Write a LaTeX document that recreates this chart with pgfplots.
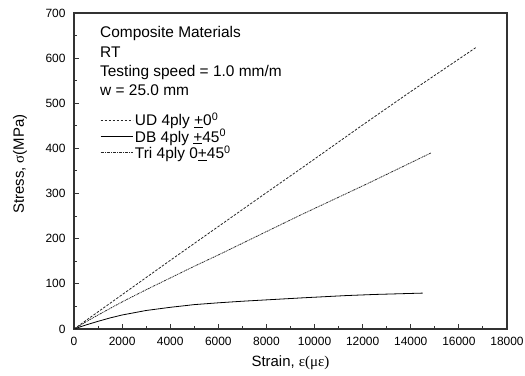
\documentclass[border=0pt]{standalone}
\usepackage{fontspec}
\setmainfont{Liberation Sans}
\newfontfamily\seriff{Liberation Serif}
\usepackage{pgfplots}
\pgfplotsset{compat=1.18}
\definecolor{ax}{HTML}{333333}
\begin{document}
\begin{tikzpicture}
\begin{axis}[name=ax, scale only axis, width=433bp, height=316bp,
  xmin=0, xmax=18000, ymin=0, ymax=700,
  xtick={0,2000,...,18000}, ytick={0,100,...,700},
  minor x tick num=1, minor y tick num=1,
  tick align=inside, xtick pos=bottom, ytick pos=left,
  major tick length=5bp, minor tick length=3bp,
  scaled x ticks=false,
  xticklabel style={/pgf/number format/1000 sep={}, yshift=-5bp},
  yticklabel style={xshift=-5bp},
  /pgf/number format/assume math mode=true,
  ticklabel style={font=\fontsize{12}{14}\selectfont},
  axis line style={line width=1.4bp, color=ax},
  every tick/.style={line width=1bp, color=ax},
  xlabel={Strain, {\seriff\fontsize{15}{17}\selectfont ε(με)}},
  ylabel={Stress, {\seriff\fontsize{15}{17}\selectfont σ}(MPa)},
  label style={font=\fontsize{15}{17}\selectfont},
  xlabel style={at={(axis description cs:0.5,-0.108)}, anchor=center},
  ylabel style={at={(axis description cs:-0.1247,0.522)}, anchor=center},
  legend style={at={(axis description cs:0.06,0.69)}, anchor=north west, draw=none, fill=none,
    font=\fontsize{15.5}{18}\selectfont, inner sep=0pt, row sep=-2bp,
    /tikz/every even column/.append style={column sep=4.5bp}},
  legend cell align=left,
  legend image code/.code={\draw[#1] (0bp,0bp) -- (32bp,0bp);},
]
\addplot[line width=0.8bp, color=black!85, dash pattern=on 2.5bp off 1.5bp] coordinates {
(0,0) (2000,76) (4000,152) (6000,227) (8000,302) (9560,360) (12000,452) (14000,526) (16750,625)};
\addlegendentry{UD 4ply \underline{+}0\textsuperscript{0}}
\addplot[line width=0.8bp, color=black] coordinates {
(0,0) (250,4.6) (500,9) (1000,17) (1500,24.5) (2000,31) (3000,41) (4000,48) (5000,54) (6000,58) (7000,61.5) (8000,64.5) (9500,69) (11300,74) (12500,76.5) (14490,79.5)};
\addlegendentry{DB 4ply \underline{+}45\textsuperscript{0}}
\addplot[line width=0.8bp, color=black!85, dash pattern=on 2bp off 0.8bp on 0.8bp off 0.8bp on 0.8bp off 0.8bp] coordinates {
(0,0) (500,16) (1000,31) (2000,60) (3000,87) (4000,113) (5000,139) (6000,164) (9400,252) (12200,322) (14840,390)};
\addlegendentry{Tri 4ply 0\underline{+}45\textsuperscript{0}}
\node[anchor=north west, inner sep=0pt, align=left, font=\fontsize{15.5}{19.3}\selectfont]
  at (axis description cs:0.06,0.957) {Composite Materials\\RT\\Testing speed = 1.0 mm/m\\w = 25.0 mm};
\end{axis}
\pgfresetboundingbox
\path ([shift={(-74bp,-47bp)}]ax.south west) rectangle ([shift={(18bp,13bp)}]ax.north east);
\end{tikzpicture}
\end{document}
